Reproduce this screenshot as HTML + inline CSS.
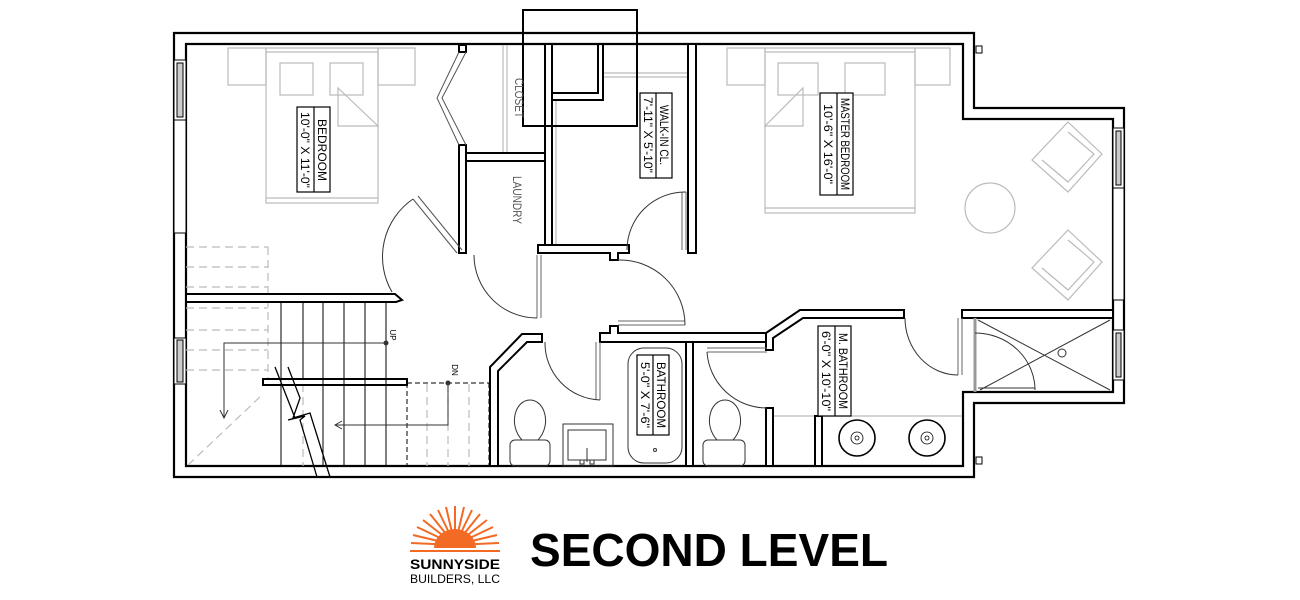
<!DOCTYPE html>
<html><head><meta charset="utf-8"><style>
html,body{margin:0;padding:0;background:#fff;width:1300px;height:600px;overflow:hidden}
svg{display:block}
text{font-family:"Liberation Sans",sans-serif}
</style></head><body>
<svg width="1300" height="600" viewBox="0 0 1300 600" xmlns="http://www.w3.org/2000/svg">
<g fill="none" stroke="#000" stroke-width="2.2">
<path d="M174,33 H974 V108 H1124 V403 H974 V477 H174 Z"/>
<path d="M186,44 H963 V119 H1113 V392 H963 V466 H186 Z"/>
</g>
<g fill="#fff" stroke="#000" stroke-width="1">
<rect x="174" y="60" width="12" height="60"/><rect x="177" y="63" width="6" height="54" fill="#ccc"/>
<rect x="174" y="120" width="12" height="113"/>
<rect x="174" y="338" width="12" height="46"/><rect x="177" y="340" width="6" height="42" fill="#ccc"/>
<rect x="1113" y="128" width="11" height="60"/><rect x="1116" y="131" width="5" height="54" fill="#ccc"/>
<rect x="1113" y="188" width="11" height="112"/>
<rect x="1113" y="330" width="11" height="50"/><rect x="1116" y="333" width="5" height="44" fill="#ccc"/>
<rect x="976" y="46" width="6" height="7"/><rect x="976" y="457" width="6" height="7"/>
</g>
<g fill="none" stroke="#bbb" stroke-width="1.2">
<rect x="228" y="48" width="38" height="37"/><rect x="378" y="48" width="37" height="37"/>
<rect x="266" y="48" width="112" height="155"/><line x1="266" y1="52" x2="378" y2="52"/><line x1="266" y1="198" x2="378" y2="198"/>
<rect x="280" y="63" width="33" height="32"/><rect x="330" y="63" width="33" height="32"/>
<path d="M338,88 V126 H378 Z"/>
<rect x="727" y="48" width="38" height="37"/><rect x="915" y="48" width="35" height="37"/>
<rect x="765" y="48" width="150" height="165"/><line x1="765" y1="52" x2="915" y2="52"/><line x1="765" y1="208" x2="915" y2="208"/>
<rect x="778" y="63" width="40" height="32"/><rect x="845" y="63" width="40" height="32"/>
<path d="M803,88 V126 H765 Z"/>
<circle cx="990" cy="208" r="25"/>
<path d="M1068,122 L1102,154 L1068,192 L1032,160 Z"/><path d="M1068,132 L1094,154 L1068,182 L1042,160"/>
<path d="M1068,230 L1102,262 L1068,300 L1032,268 Z"/><path d="M1068,240 L1094,262 L1068,290 L1042,268"/>
<g stroke-dasharray="8,5"><line x1="186" y1="247" x2="268" y2="247"/><line x1="186" y1="267" x2="268" y2="267"/><line x1="186" y1="287" x2="268" y2="287"/>
<line x1="186" y1="308" x2="268" y2="308"/><line x1="186" y1="330" x2="268" y2="330"/><line x1="186" y1="350" x2="268" y2="350"/><line x1="186" y1="370" x2="268" y2="370"/>
<line x1="268" y1="247" x2="268" y2="380"/><line x1="188" y1="465" x2="262" y2="395"/>
<line x1="427" y1="384" x2="427" y2="466"/><line x1="448" y1="384" x2="448" y2="466"/><line x1="469" y1="384" x2="469" y2="466"/><line x1="303" y1="384" x2="303" y2="466"/></g>
<line x1="503" y1="45" x2="503" y2="153"/><line x1="507" y1="45" x2="507" y2="153"/>
<line x1="603" y1="73" x2="695" y2="73"/><line x1="603" y1="77" x2="695" y2="77"/>
<line x1="552" y1="100" x2="552" y2="245"/><line x1="556" y1="100" x2="556" y2="245"/>
<line x1="772" y1="416" x2="962" y2="416"/>
</g>
<g fill="#fff" stroke="#000" stroke-width="2">
<rect x="459" y="145" width="7" height="108"/>
<rect x="466" y="153" width="79" height="8"/>
<rect x="545" y="44" width="7" height="209"/>
<path d="M538,245 H629 V253 H618 V260 H610 V253 H538 Z"/>
<rect x="688" y="44" width="8" height="209"/>
<path d="M552,44 H598 V93 H552 Z" fill="none"/><path d="M603,44 V100 H552" fill="none"/>
<path d="M186,294 H395 L402,300 L396,302 H186 Z"/>
<path d="M490,466 V367 L522,334 H542 V342 H527 L498,371 V466 Z"/>
<path d="M600,333 H610 V326 H618 V333 H766 V342 H600 Z"/>
<rect x="686" y="342" width="7" height="124"/>
<path d="M766,333 L800,310 H904 V318 H803 L773,338 V350 H766 Z"/>
<path d="M962,310 H1113 V318 H962 Z"/>
<rect x="766" y="408" width="7" height="58"/>
<rect x="815" y="416" width="7" height="50"/>
<rect x="459" y="45" width="7" height="7"/>
<rect x="263" y="379" width="144" height="6"/>
</g>
<g fill="none" stroke="#333" stroke-width="1">
<path d="M459,52 L437,98 L459,145 M466,52 L442,98 L466,145" stroke="#555"/>
<path d="M457,253 L413,199 M462,250 L418,196" stroke="#555"/>
<path d="M413,199 A70,70 0 0 0 392,292"/>
<path d="M537,255 V318 M541,255 V318" stroke="#666"/>
<path d="M537,318 A63,63 0 0 1 474,255"/>
<path d="M686,192 V250 M682,192 V250" stroke="#666"/>
<path d="M686,192 A58,58 0 0 0 627,250"/>
<path d="M618,325 H685 M618,321 H685" stroke="#666"/>
<path d="M618,260 A65,65 0 0 1 685,325"/>
<path d="M600,342 V400 M596,342 V400" stroke="#666"/>
<path d="M545,342 A57,57 0 0 0 600,400"/>
<path d="M707,352 H767 M707,348 H767" stroke="#666"/>
<path d="M707,352 A60,60 0 0 0 767,408"/>
<path d="M958,318 V375 M962,318 V375" stroke="#666"/>
<path d="M905,318 A53,57 0 0 0 958,375"/>
<line x1="975" y1="318" x2="975" y2="392" stroke="#999" stroke-width="3"/>
<path d="M978,320 L1110,390 M980,390 L1110,320"/>
<circle cx="1062" cy="353" r="4" fill="#fff"/>
<path d="M975,333 A60,57 0 0 1 1035,390 M978,388 H1035"/>
<g stroke="#000"><line x1="281" y1="302" x2="281" y2="466"/><line x1="323" y1="302" x2="323" y2="466"/><line x1="344" y1="302" x2="344" y2="466"/><line x1="365" y1="302" x2="365" y2="466"/><line x1="386" y1="302" x2="386" y2="466"/><line x1="303" y1="302" x2="303" y2="379"/><line x1="407" y1="383" x2="407" y2="466" stroke-dasharray="5,3"/><line x1="489" y1="383" x2="489" y2="466" stroke-dasharray="5,3"/><line x1="407" y1="383" x2="489" y2="383" stroke-dasharray="5,3"/></g>
<path d="M386,343 H224 V418 M220,410 L224,418 L228,410"/>
<circle cx="386" cy="343" r="2" fill="#333"/>
<path d="M448,383 V425 H335 M342,421 L335,425 L342,429"/>
<circle cx="448" cy="383" r="2" fill="#333"/>
<path d="M275,367 L295,418 L288,420 L305,416 L300,420 L317,477 M288,367 L300,398 L293,418 L310,413 L330,477" stroke="#000" stroke-width="1.3"/>
<path d="M522,440 C508,425 515,400 530,400 C545,400 552,425 538,440 Z"/>
<rect x="510" y="440" width="40" height="26" rx="5"/>
<path d="M717,440 C703,425 710,400 725,400 C740,400 747,425 733,440 Z"/>
<rect x="703" y="440" width="42" height="26" rx="5"/>
<rect x="563" y="424" width="50" height="42"/><rect x="568" y="430" width="38" height="30"/>
<line x1="587" y1="448" x2="587" y2="462"/><rect x="580" y="460" width="4" height="4"/><rect x="590" y="460" width="4" height="4"/>
<rect x="628" y="348" width="54" height="115" rx="16"/>
<circle cx="655" cy="450" r="1.5"/>
</g>
<g fill="none" stroke="#000" stroke-width="1.6">
<circle cx="857" cy="438" r="18"/><circle cx="927" cy="438" r="18"/>
</g>
<g fill="none" stroke="#000" stroke-width="0.8">
<circle cx="857" cy="438" r="6"/><circle cx="857" cy="438" r="2"/>
<circle cx="927" cy="438" r="6"/><circle cx="927" cy="438" r="2"/>
</g>
<rect x="523" y="10" width="114" height="116" fill="none" stroke="#000" stroke-width="2"/>
<g fill="#fff" stroke="#000" stroke-width="1.2">
<rect x="297" y="107" width="33" height="85"/><line x1="314" y1="107" x2="314" y2="192"/>
<rect x="640" y="93" width="32" height="85"/><line x1="656" y1="93" x2="656" y2="178"/>
<rect x="820" y="93" width="33" height="102"/><line x1="837" y1="93" x2="837" y2="195"/>
<rect x="818" y="326" width="33" height="90"/><line x1="835" y1="326" x2="835" y2="416"/>
<rect x="637" y="355" width="32" height="80"/><line x1="653" y1="355" x2="653" y2="435"/>
</g>
<g font-size="12" fill="#000" lengthAdjust="spacingAndGlyphs">
<text transform="translate(318,150) rotate(90)" text-anchor="middle" textLength="62" lengthAdjust="spacingAndGlyphs">BEDROOM</text>
<text transform="translate(301,150) rotate(90)" text-anchor="middle" textLength="76" lengthAdjust="spacingAndGlyphs">10'-0" X 11'-0"</text>
<text transform="translate(660,135) rotate(90)" text-anchor="middle" textLength="60" lengthAdjust="spacingAndGlyphs">WALK-IN CL.</text>
<text transform="translate(644,135) rotate(90)" text-anchor="middle" textLength="76" lengthAdjust="spacingAndGlyphs">7'-11" X 5'-10"</text>
<text transform="translate(841,144) rotate(90)" text-anchor="middle" textLength="92" lengthAdjust="spacingAndGlyphs">MASTER BEDROOM</text>
<text transform="translate(824,144) rotate(90)" text-anchor="middle" textLength="80" lengthAdjust="spacingAndGlyphs">10'-6" X 16'-0"</text>
<text transform="translate(839,371) rotate(90)" text-anchor="middle" textLength="76" lengthAdjust="spacingAndGlyphs">M. BATHROOM</text>
<text transform="translate(822,371) rotate(90)" text-anchor="middle" textLength="80" lengthAdjust="spacingAndGlyphs">6'-0" X 10'-10"</text>
<text transform="translate(657,395) rotate(90)" text-anchor="middle" textLength="66" lengthAdjust="spacingAndGlyphs">BATHROOM</text>
<text transform="translate(641,395) rotate(90)" text-anchor="middle" textLength="66" lengthAdjust="spacingAndGlyphs">5'-0" X 7'-6"</text>
<text transform="translate(515,98) rotate(90)" text-anchor="middle" fill="#555" textLength="40" lengthAdjust="spacingAndGlyphs">CLOSET</text>
<text transform="translate(513,200) rotate(90)" text-anchor="middle" fill="#555" textLength="48" lengthAdjust="spacingAndGlyphs">LAUNDRY</text>
<text transform="translate(390,335) rotate(90)" text-anchor="middle" font-size="8">UP</text>
<text transform="translate(452,370) rotate(90)" text-anchor="middle" font-size="8">DN</text>
</g>
<g stroke="#f26a24" stroke-width="2">
<line x1="455" y1="545" x2="455" y2="506"/><line x1="455" y1="545" x2="446" y2="507"/><line x1="455" y1="545" x2="464" y2="507"/>
<line x1="455" y1="545" x2="438" y2="510"/><line x1="455" y1="545" x2="472" y2="510"/><line x1="455" y1="545" x2="430" y2="514"/><line x1="455" y1="545" x2="480" y2="514"/>
<line x1="455" y1="545" x2="423" y2="520"/><line x1="455" y1="545" x2="487" y2="520"/><line x1="455" y1="545" x2="417" y2="527"/><line x1="455" y1="545" x2="493" y2="527"/>
<line x1="455" y1="545" x2="413" y2="535"/><line x1="455" y1="545" x2="497" y2="535"/><line x1="455" y1="545" x2="411" y2="543"/><line x1="455" y1="545" x2="499" y2="543"/>
<line x1="410" y1="551" x2="500" y2="551"/>
</g>
<path d="M434,548 A21,19 0 0 1 476,548 Z" fill="#f26a24"/>
<text x="455" y="569" font-size="14" font-weight="bold" text-anchor="middle" textLength="90" lengthAdjust="spacingAndGlyphs">SUNNYSIDE</text>
<text x="455" y="583" font-size="12" text-anchor="middle" textLength="90" lengthAdjust="spacingAndGlyphs">BUILDERS, LLC</text>
<text x="530" y="566" font-size="46" font-weight="bold" textLength="358" lengthAdjust="spacingAndGlyphs">SECOND LEVEL</text>
</svg>
</body></html>
